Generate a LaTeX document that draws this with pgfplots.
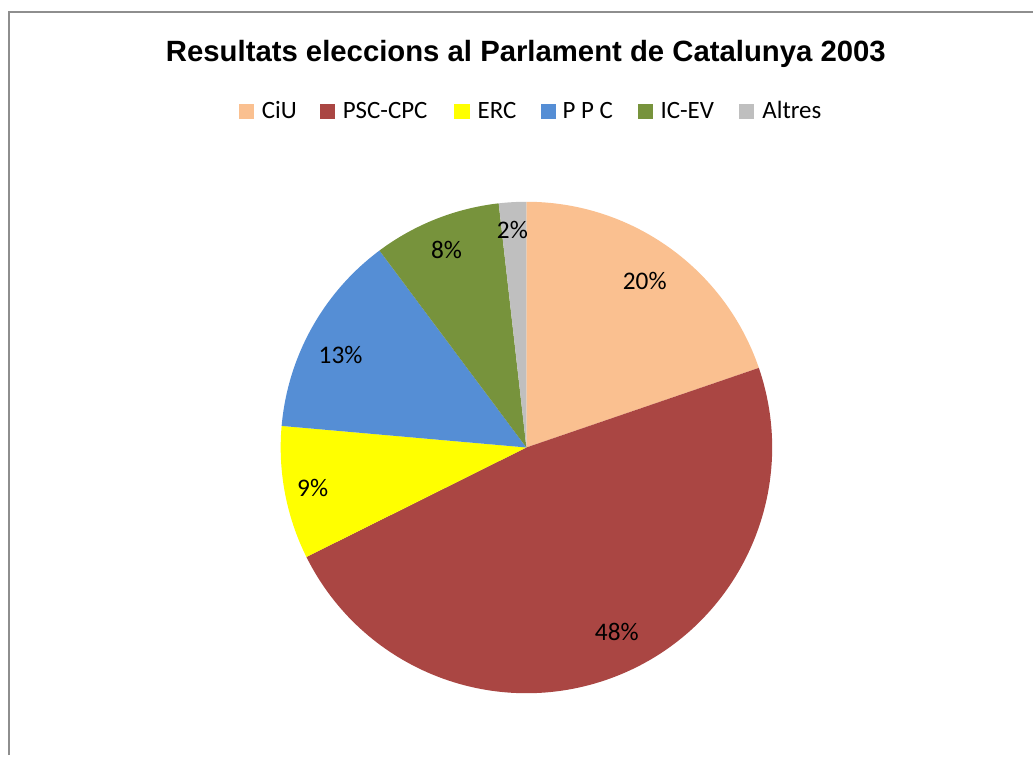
\documentclass[border=0pt]{standalone}
\usepackage{pgfplots}
\usepackage{pgfplotstable}
\usepackage{fontspec}
\pgfplotsset{compat=1.18}
\setmainfont{Carlito}
\newfontfamily\titlefont{Liberation Sans}

\definecolor{ciu}{HTML}{FAC090}
\definecolor{psc}{HTML}{AA4643}
\definecolor{erc}{HTML}{FFFF00}
\definecolor{ppc}{HTML}{558ED5}
\definecolor{icev}{HTML}{77933C}
\definecolor{altres}{HTML}{BFBFBF}

% share of each party (percent), slice colour, label position (px)
\pgfplotstableread{
party  value  col     lx     ly
CiU    19.75  ciu     645.5  281
PSC    47.90  psc     617.5  633
ERC    8.75   erc     313    489
PPC    13.40  ppc     341    355
ICEV   8.40   icev    447    250
Altres 1.80   altres  513    230
}\piedata

\begin{document}
\begin{tikzpicture}
\begin{axis}[
    hide axis,
    scale only axis,
    width=775.5pt,
    height=567pt,
    xmin=0, xmax=1034,
    ymin=0, ymax=756,
    y dir=reverse,
    clip=false,
]
\path (axis cs:0,0) rectangle (axis cs:1034,756);
% chart frame
\draw[color={rgb,255:red,142;green,142;blue,142}, line width=1.8pt]
    (axis cs:9,756) -- (axis cs:9,12) -- (axis cs:1034,12);

% slices
\def\astart{90}
\pgfplotstablegetrowsof{\piedata}
\pgfmathtruncatemacro\nrows{\pgfplotsretval-1}
\pgfplotsforeachungrouped \i in {0,...,\nrows}{
    \pgfplotstablegetelem{\i}{value}\of\piedata \let\v\pgfplotsretval
    \pgfplotstablegetelem{\i}{col}\of\piedata \let\c\pgfplotsretval
    \pgfmathsetmacro\aend{\astart-3.6*\v}
    \edef\temp{\noexpand\fill[\c] (axis cs:527,448) -- ++(\astart:184.5pt)
        arc[start angle=\astart, end angle=\aend, radius=184.5pt] -- cycle;}
    \temp
    \global\let\astart\aend
}
% data labels
\pgfplotsforeachungrouped \i in {0,...,\nrows}{
    \pgfplotstablegetelem{\i}{value}\of\piedata \let\v\pgfplotsretval
    \pgfplotstablegetelem{\i}{lx}\of\piedata \let\lx\pgfplotsretval
    \pgfplotstablegetelem{\i}{ly}\of\piedata \let\ly\pgfplotsretval
    \pgfmathtruncatemacro\pct{round(\v)}
    \edef\temp{\noexpand\node[font=\noexpand\fontsize{19pt}{22pt}\noexpand\selectfont]
        at (axis cs:\lx,\ly) {\pct\noexpand\%};}
    \temp
}

% title
\node[anchor=base, font=\titlefont\bfseries\fontsize{22pt}{26pt}\selectfont]
    at (axis cs:526.5,62) {Resultats eleccions al Parlament de Catalunya 2003};

% legend
\fill[ciu]    (axis cs:239,104) rectangle (axis cs:254,119);
\fill[psc]    (axis cs:320,104) rectangle (axis cs:335,119);
\fill[erc]    (axis cs:455,104) rectangle (axis cs:471,119);
\fill[ppc]    (axis cs:542,104) rectangle (axis cs:557,119);
\fill[icev]   (axis cs:639,104) rectangle (axis cs:654,119);
\fill[altres] (axis cs:740,104) rectangle (axis cs:755,119);
\begin{scope}[every node/.style={anchor=base west, inner sep=0pt,
        font=\fontsize{18.7pt}{22pt}\selectfont}]
\node at (axis cs:262,119) {CiU};
\node at (axis cs:343,119) {PSC-CPC};
\node at (axis cs:478,119) {ERC};
\node at (axis cs:563,119) {P P C};
\node at (axis cs:661,119) {IC-EV};
\node at (axis cs:763,119) {Altres};
\end{scope}
\end{axis}
\end{tikzpicture}
\end{document}
